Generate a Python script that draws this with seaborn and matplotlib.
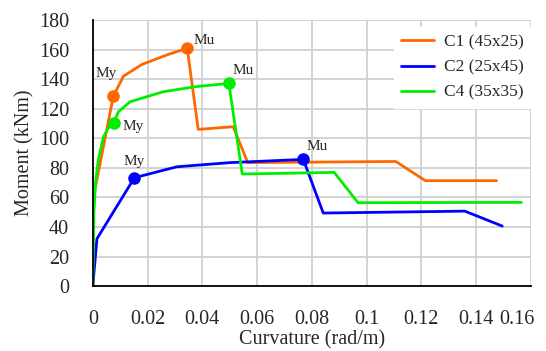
import numpy as np
import pandas as pd
import seaborn as sns
import matplotlib.pyplot as plt
import matplotlib.transforms as mtransforms

# moment-curvature curves
c1_x = [0, 0.0002, 0.0075, 0.0112, 0.018, 0.028, 0.0345, 0.0385, 0.0513, 0.0566, 0.1107, 0.1215, 0.1475]
c1_y = [0, 60, 128.5, 142, 150, 157, 160.8, 106, 107.8, 83.5, 84.3, 71.3, 71.3]

c2_x = [0, 0.0015, 0.0152, 0.0307, 0.05, 0.0769, 0.0842, 0.1359, 0.1496]
c2_y = [0, 32, 73.3, 80.7, 83.5, 85.7, 49.4, 50.7, 40.6]

c4_x = [0, 0.0004, 0.001, 0.002, 0.0039, 0.0057, 0.0076, 0.0094, 0.0136, 0.0258, 0.038, 0.0497, 0.0546, 0.0882, 0.0969, 0.1566]
c4_y = [0, 50, 70, 85.5, 101, 107, 110.5, 118, 124.7, 131.5, 135, 137.1, 75.8, 76.9, 56.4, 56.6]

names = ["C1 (45x25)", "C2 (25x45)", "C4 (35x35)"]
colors = ["#ff6600", "#0000ff", "#00ee00"]

# yield / ultimate points
my_x = [0.0075, 0.0152, 0.0076]
my_y = [128.5, 73.3, 110.5]
mu_x = [0.0345, 0.0769, 0.0497]
mu_y = [160.8, 85.7, 137.1]

x_ticks = [0, 0.02, 0.04, 0.06, 0.08, 0.1, 0.12, 0.14, 0.16]
x_labels = ["0", "0.02", "0.04", "0.06", "0.08", "0.1", "0.12", "0.14", "0.16"]

sns.set_theme(style="whitegrid")
plt.rcParams["font.family"] = ["Liberation Serif", "DejaVu Serif"]

fig = plt.figure(figsize=(5.46, 3.51), dpi=100)
ax = fig.add_axes([0.170, 0.185, 0.802, 0.758])

for xs, ys, name, col in zip([c1_x, c2_x, c4_x], [c1_y, c2_y, c4_y], names, colors):
    d = pd.DataFrame({"x": xs, "y": ys})
    sns.lineplot(data=d, x="x", y="y", sort=False, color=col, lw=2.0, label=name, ax=ax)

for i in range(3):
    ax.plot([my_x[i], mu_x[i]], [my_y[i], mu_y[i]], "o", color=colors[i], ms=8, ls="none")

# labels for the points
my_off = [(-5, 16), (0, 12), (14, -3)]
mu_off = [(12, 6), (10, 9), (10, 9)]
for i in range(3):
    ax.annotate("My", (my_x[i], my_y[i]), xytext=my_off[i], textcoords="offset points",
                ha="center", va="center", fontsize=11)
    ax.annotate("Mu", (mu_x[i], mu_y[i]), xytext=mu_off[i], textcoords="offset points",
                ha="center", va="center", fontsize=11)

ax.set_xlim(0, 0.16)
ax.set_ylim(0, 180)
ax.set_xticks(x_ticks)
ax.set_xticklabels(x_labels)
ax.set_yticks(range(0, 181, 20))
ax.tick_params(labelsize=14.5, length=0)
ax.tick_params(axis="x", pad=17)
ax.tick_params(axis="y", pad=17)
ax.set_xlabel("Curvature (rad/m)", fontsize=14.5, labelpad=1)
ax.set_ylabel("Moment (kNm)", fontsize=14.5, labelpad=3)

# last x label is pushed left so it stays inside the picture
last = ax.get_xticklabels()[-1]
last.set_transform(last.get_transform() + mtransforms.ScaledTranslation(-0.14, 0, fig.dpi_scale_trans))

ax.grid(True, color="#d0d0d0", lw=1.3)
for s in ["top", "right"]:
    ax.spines[s].set_visible(False)
for s in ["left", "bottom"]:
    ax.spines[s].set_color("black")
    ax.spines[s].set_linewidth(1.3)

leg = ax.legend(loc="upper right", bbox_to_anchor=(1.012, 0.992), fontsize=12.5, frameon=True,
                fancybox=False, edgecolor="white", framealpha=1, handlelength=1.9,
                handletextpad=0.6, labelspacing=0.52, borderpad=0.4, borderaxespad=0.3)

fig.savefig("out.png", dpi=100)
